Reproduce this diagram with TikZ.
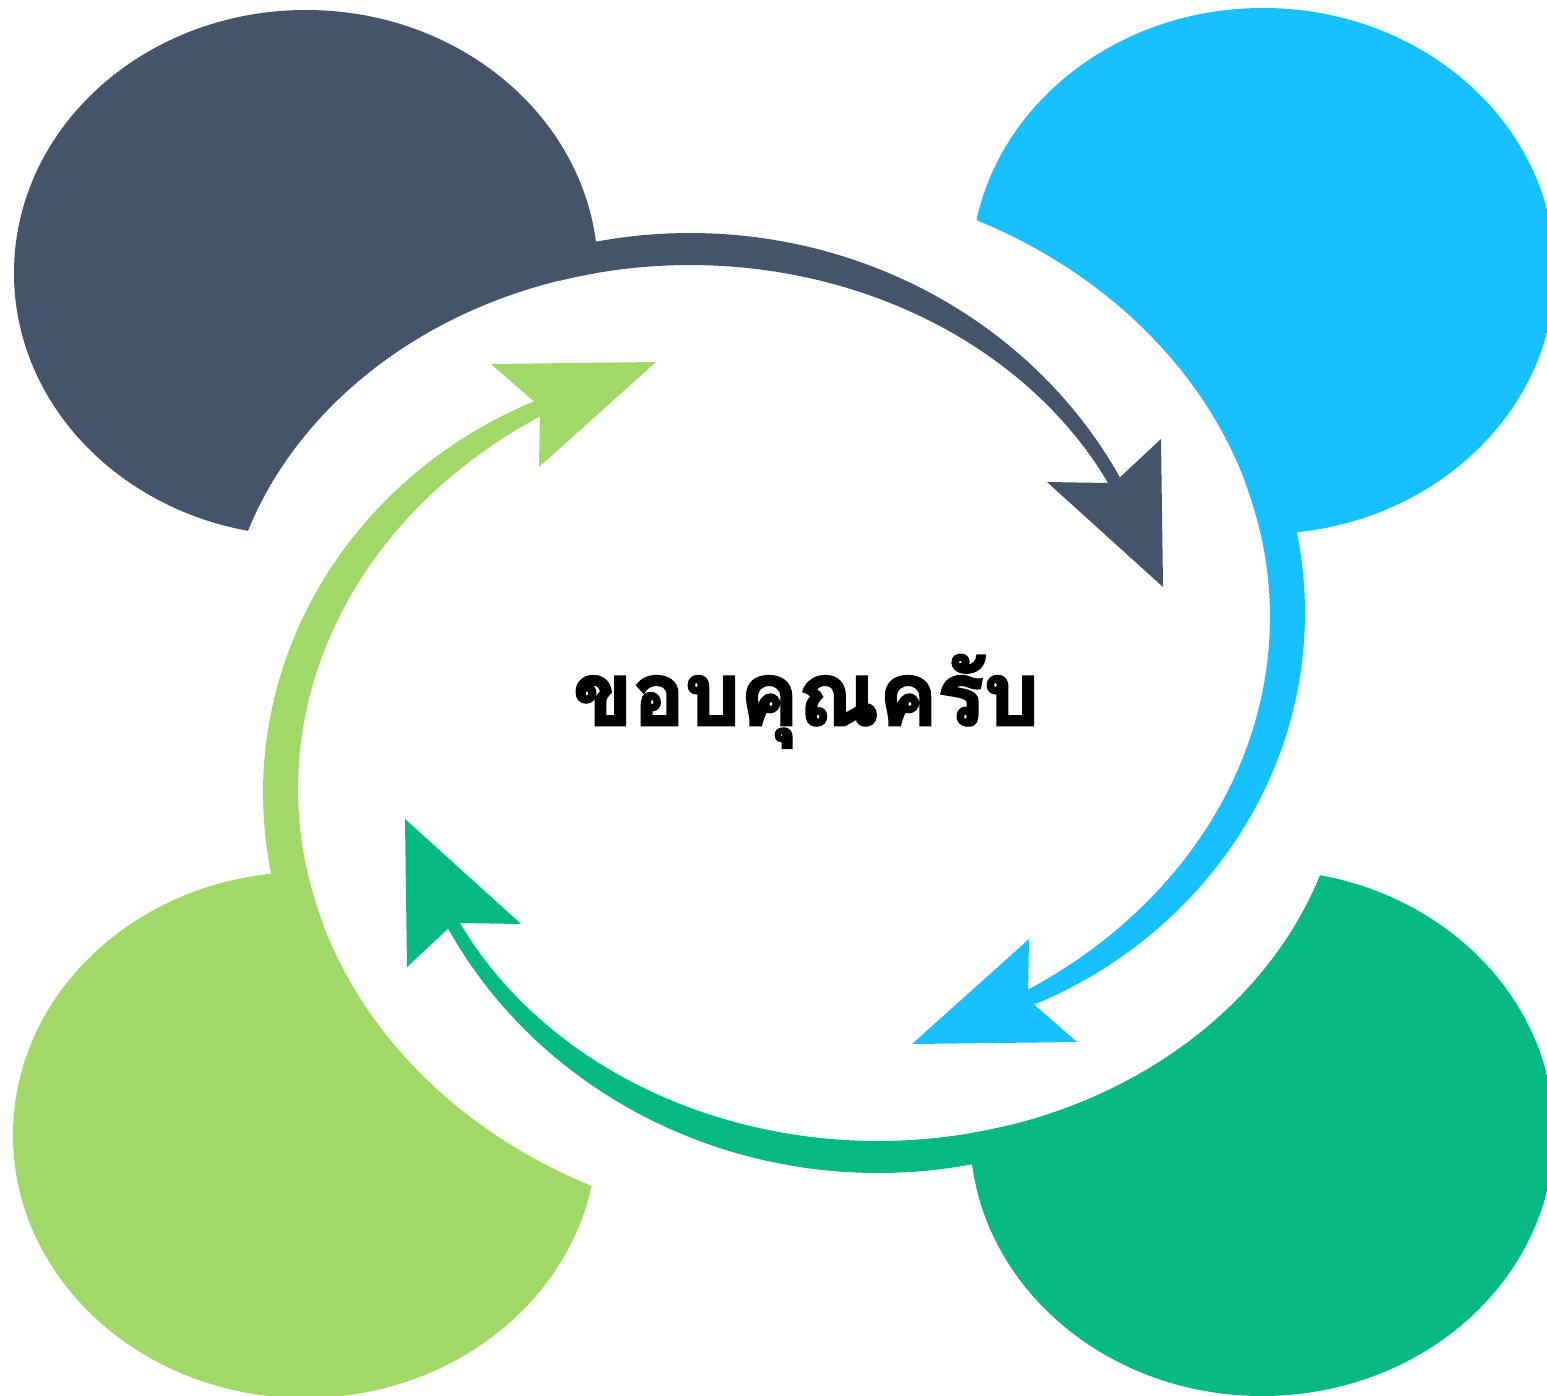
\documentclass[tikz,border=0pt]{standalone}
\usepackage{fontspec}
\newfontfamily\thaifont[Script=Thai, BoldFeatures={FakeBold=3}]{Loma}

\definecolor{slate}{HTML}{44546A}
\definecolor{sky}{HTML}{17C0FE}
\definecolor{jade}{HTML}{04BA82}
\definecolor{lime}{HTML}{A0D967}

% Upper-left lobe with its clockwise arrow (outer and inner edges are
% two different ellipse arcs, so the band tapers toward the head).
\newcommand{\leftlobe}[1]{%
  \begin{scope}
    \clip (306,273) ellipse [x radius=292, y radius=263];
    \fill[#1, even odd rule] (-60,-60) rectangle (1610,1460)
      (690,658) ellipse [x radius=467, y radius=393];
  \end{scope}
  \fill[#1]
    plot[domain=105.5:27.8, samples=90, variable=\t]
      ({690+486*cos(\t)}, {691-458*sin(\t)})
    -- (1161,439) -- (1163,587) -- (1047,482) -- (1108,483)
    -- plot[domain=26.5:106.2, samples=90, variable=\t]
      ({690+467*cos(\t)}, {658-393*sin(\t)})
    -- cycle;
}

% Upper-right lobe with its arrow running down the right side.
\newcommand{\rightlobe}[1]{%
  \begin{scope}
    \clip (1263,271) ellipse [x radius=292, y radius=263];
    \fill[#1, even odd rule] (-60,-60) rectangle (1610,1460)
      (753,617) ellipse [x radius=517, y radius=440];
  \end{scope}
  \fill[#1]
    plot[domain=18.1:-66.2, samples=90, variable=\t]
      ({851+454*cos(\t)}, {613-428*sin(\t)})
    -- (1077,1042) -- (912,1044) -- (1029,939) -- (1028,994)
    -- plot[domain=-58:18.1, samples=90, variable=\t]
      ({753+517*cos(\t)}, {617-440*sin(\t)})
    -- cycle;
}

\begin{document}
\begin{tikzpicture}[x=1pt, y=-1pt]
  \useasboundingbox (0,0) rectangle (1547,1395);
  \clip (0,0) rectangle (1547,1395);
  \fill[white] (0,0) rectangle (1547,1395);

  \leftlobe{slate}
  \rightlobe{sky}
  % the lower pair is the upper pair turned half a turn
  \begin{scope}[rotate around={180:(784,703)}]
    \leftlobe{jade}
    \rightlobe{lime}
  \end{scope}

  \node[anchor=base, inner sep=0pt, font=\thaifont\bfseries\fontsize{87}{100}\selectfont]
    (title) at (806,725) {ขอบคุณครับ};
\end{tikzpicture}
\end{document}
